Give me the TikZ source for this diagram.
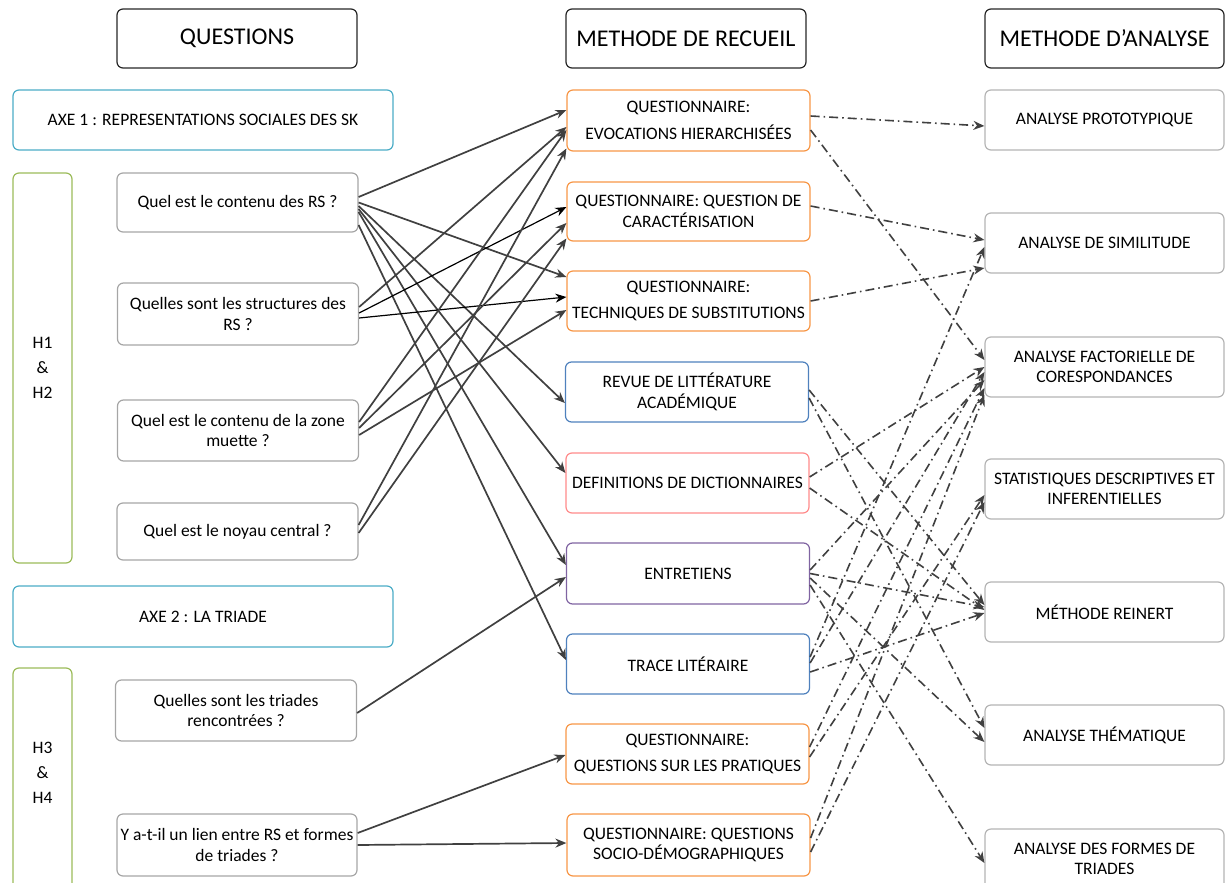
\documentclass[tikz,border=0pt]{standalone}
\usepackage{fontspec}
\setmainfont{Carlito}
\usetikzlibrary{arrows.meta}
\definecolor{axeblue}{HTML}{4BACC6}
\definecolor{grpgreen}{HTML}{9BBB59}
\definecolor{boxgray}{HTML}{A6A6A6}
\definecolor{anagray}{HTML}{B4B4B4}
\definecolor{qorange}{HTML}{F79646}
\definecolor{litblue}{HTML}{4F81BD}
\definecolor{dicred}{HTML}{FF8B8B}
\definecolor{intpurple}{HTML}{8064A2}
\definecolor{linkgray}{HTML}{404040}
\begin{document}
\begin{tikzpicture}[x=1pt,y=-1pt,
    box/.style={draw=boxgray,rounded corners=6pt,line width=1.2pt,align=center,
      minimum width=241pt,minimum height=60pt,inner sep=2pt,
      font=\fontsize{17.5}{20.5}\selectfont},
    hdr/.style={box,draw=black!85,minimum width=240pt,minimum height=59pt,
      font=\fontsize{24}{28}\selectfont},
    axe/.style={box,draw=axeblue,minimum width=380pt},
    grp/.style={box,draw=grpgreen,minimum width=59pt},
    meth/.style={box,minimum width=243pt},
    ana/.style={box,draw=anagray,minimum width=239pt},
    link/.style={draw=linkgray,line width=1.7pt,-{Stealth[length=11pt,width=9pt]}},
    dlink/.style={link,line width=1.6pt,dash pattern=on 9pt off 4pt on 1.6pt off 4pt}
    ]
    \useasboundingbox (0,0) rectangle (1226,883);
    % headers
    \node[hdr] (hq) at (237,38.5) {QUESTIONS};
    \node[hdr] (hr) at (686,38.5) {METHODE DE RECUEIL};
    \node[hdr,minimum width=239pt] (ha) at (1104.5,38.5) {METHODE D’ANALYSE};
    % questions
    \node[axe] (axe1) at (203,120) {AXE 1 : REPRESENTATIONS SOCIALES DES SK};
    \node[grp,minimum height=390pt] (g1) at (42.5,368) {H1\\[4.5pt]\&\\[4.5pt]H2};
    \node[box,minimum height=59pt] (q1) at (237.5,202.5) {Quel est le contenu des RS ?};
    \node[box,minimum height=62pt] (q2) at (238,314) {Quelles sont les structures des\\RS ?};
    \node[box,minimum height=61pt] (q3) at (238,430.5) {Quel est le contenu de la zone\\muette ?};
    \node[box,minimum height=57pt] (q4) at (237.5,531.5) {Quel est le noyau central ?};
    \node[axe,minimum height=61pt] (axe2) at (203,616.5) {AXE 2 : LA TRIADE};
    \node[grp,minimum height=232pt,
      label={[align=center,yshift=11pt,font=\fontsize{17.5}{20.5}\selectfont]center:H3\\[4.5pt]\&\\[4.5pt]H4}]
      (g2) at (42.5,784) {};
    \node[box,minimum height=61pt] (q5) at (236,710.5) {Quelles sont les triades\\rencontrées ?};
    \node[box,minimum height=62pt,minimum width=240pt] (q6) at (237,845) {Y a-t-il un lien entre RS et formes\\de triades ?};
    % methodes de recueil
    \node[meth,draw=qorange,minimum height=61pt] (m1) at (688.5,120.5) {QUESTIONNAIRE:\\[7pt]EVOCATIONS HIERARCHISÉES};
    \node[meth,draw=qorange,minimum height=59pt] (m2) at (688.5,211.5) {QUESTIONNAIRE: QUESTION DE\\CARACTÉRISATION};
    \node[meth,draw=qorange] (m3) at (688.5,301) {QUESTIONNAIRE:\\[5pt]TECHNIQUES DE SUBSTITUTIONS};
    \node[meth,draw=litblue] (m4) at (687,392) {REVUE DE LITTÉRATURE\\ACADÉMIQUE};
    \node[meth,draw=dicred] (m5) at (687.5,483) {DEFINITIONS DE DICTIONNAIRES};
    \node[meth,draw=intpurple,minimum height=61pt] (m6) at (688,573.5) {ENTRETIENS};
    \node[meth,draw=litblue] (m7) at (688,664) {TRACE LITÉRAIRE};
    \node[meth,draw=qorange] (m8) at (687.5,754) {QUESTIONNAIRE:\\[6pt]QUESTIONS SUR LES PRATIQUES};
    \node[meth,draw=qorange,minimum height=62pt] (m9) at (688.5,845) {QUESTIONNAIRE: QUESTIONS\\SOCIO-DÉMOGRAPHIQUES};
    % methodes d'analyse
    \node[ana] (r1) at (1104.5,120) {ANALYSE PROTOTYPIQUE};
    \node[ana] (r2) at (1104.5,243) {ANALYSE DE SIMILITUDE};
    \node[ana] (r3) at (1104.5,367) {ANALYSE FACTORIELLE DE\\CORESPONDANCES};
    \node[ana] (r4) at (1104.5,489) {STATISTIQUES DESCRIPTIVES ET\\INFERENTIELLES};
    \node[ana] (r5) at (1104.5,612) {MÉTHODE REINERT};
    \node[ana] (r6) at (1104.5,735) {ANALYSE THÉMATIQUE};
    \node[ana] (r7) at (1104.5,859) {ANALYSE DES FORMES DE\\TRIADES};
    % questions -> recueil
    \draw[link] ([yshift=5.5pt]q1.east) -- ([yshift=10.5pt]m1.west);
    \draw[link] ([yshift=0pt]q1.east) -- ([yshift=24pt]m3.west);
    \draw[link] ([yshift=-3.5pt]q1.east) -- ([yshift=-11pt]m4.west);
    \draw[link] ([yshift=-6.5pt]q1.east) -- ([yshift=10pt]m5.west);
    \draw[link] ([yshift=-9.5pt]q1.east) -- ([yshift=8.5pt]m6.west);
    \draw[link] ([yshift=-22.5pt]q1.east) -- ([yshift=4pt]m7.west);
    \draw[link] ([yshift=7pt]q2.east) -- ([yshift=-6.5pt]m1.west);
    \draw[link,draw=black,line width=1.2pt] ([yshift=1pt]q2.east) -- ([yshift=4.5pt]m2.west);
    \draw[link,draw=black,line width=1.2pt] ([yshift=-4pt]q2.east) -- ([yshift=4pt]m3.west);
    \draw[link] ([yshift=8.5pt]q3.east) -- ([yshift=-9.5pt]m1.west);
    \draw[link] ([yshift=2.5pt]q3.east) -- ([yshift=-11.5pt]m2.west);
    \draw[link] ([yshift=-4.5pt]q3.east) -- ([yshift=-9pt]m3.west);
    \draw[link] ([yshift=6.5pt]q4.east) -- ([yshift=-28pt]m1.west);
    \draw[link] ([yshift=-1.5pt]q4.east) -- ([yshift=-27pt]m2.west);
    \draw[link] ([yshift=-2.5pt]q5.east) -- ([yshift=-3.5pt]m6.west);
    \draw[link] ([yshift=12pt]q6.east) -- ([yshift=-1pt]m8.west);
    \draw[link] ([yshift=0pt]q6.east) -- ([yshift=2pt]m9.west);
    % recueil -> analyse
    \draw[dlink] ([yshift=4.5pt]m1.east) -- ([yshift=-6pt]r1.west);
    \draw[dlink] ([yshift=-9.5pt]m1.east) -- ([yshift=7pt]r3.west);
    \draw[dlink] ([yshift=5.5pt]m2.east) -- ([yshift=3pt]r2.west);
    \draw[dlink] ([yshift=0pt]m3.east) -- ([yshift=-25pt]r2.west);
    \draw[dlink] ([yshift=2pt]m4.east) -- ([yshift=7pt]r5.west);
    \draw[dlink] ([yshift=-6pt]m4.east) -- ([yshift=7pt]r6.west);
    \draw[dlink] ([yshift=6pt]m5.east) -- ([yshift=0pt]r3.west);
    \draw[dlink] ([yshift=-5pt]m5.east) -- ([yshift=2pt]r5.west);
    \draw[dlink] ([yshift=3.5pt]m6.east) -- ([yshift=-13pt]r3.west);
    \draw[dlink] ([yshift=0pt]m6.east) -- ([yshift=5pt]r5.west);
    \draw[dlink] ([yshift=-4.5pt]m6.east) -- ([yshift=-7pt]r6.west);
    \draw[dlink] ([yshift=-11.5pt]m6.east) -- ([yshift=-4pt]r7.west);
    \draw[dlink] ([yshift=7pt]m7.east) -- ([yshift=-4pt]r2.west);
    \draw[dlink] ([yshift=1pt]m7.east) -- ([yshift=-5pt]r3.west);
    \draw[dlink] ([yshift=-8pt]m7.east) -- ([yshift=-1pt]r5.west);
    \draw[dlink] ([yshift=7pt]m8.east) -- ([yshift=-21pt]r3.west);
    \draw[dlink] ([yshift=-3pt]m8.east) -- ([yshift=-6pt]r4.west);
    \draw[dlink] ([yshift=7pt]m9.east) -- ([yshift=-28pt]r3.west);
    \draw[dlink] ([yshift=-7pt]m9.east) -- ([yshift=-13pt]r4.west);
\end{tikzpicture}
\end{document}
